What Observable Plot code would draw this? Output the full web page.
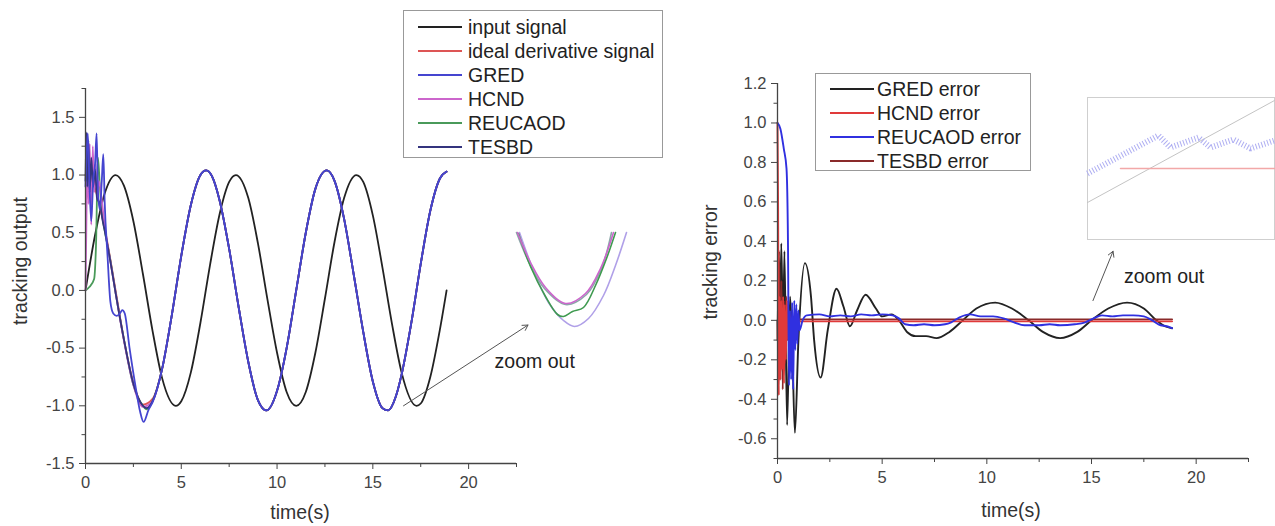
<!DOCTYPE html>
<html><head><meta charset="utf-8">
<script src="https://cdn.jsdelivr.net/npm/d3@7"></script>
<script src="https://cdn.jsdelivr.net/npm/@observablehq/plot@0.6"></script>
<style>
body{margin:0;background:#fff;font-family:"Liberation Sans",Arial,sans-serif;}
#root{position:relative;width:1275px;height:526px;overflow:hidden;background:#fff;}
.abs{position:absolute;}
.legend{position:absolute;border:1px solid #999;background:#fff;box-sizing:border-box;}
.row{position:absolute;height:24px;line-height:24px;font-size:19.5px;color:#222;white-space:nowrap;}
.title{position:absolute;font-size:19.5px;color:#333;white-space:nowrap;}
</style></head>
<body><div id="root"></div>
<script>
// ---------- left chart: tracking output ----------
const leftNames = ["input signal","ideal derivative signal","GRED","HCND","REUCAOD","TESBD"];
const leftColors = ["#222222","#dd5555","#4545d0","#cc66cc","#4a9a5a","#34347e"];

const inputT = [0,0.5,1,1.57,2,2.5,3,3.5,4,4.71,5,5.5,6,6.5,7,7.5,7.85,8.5,9,9.5,10,10.5,11,11.5,12,12.5,13,13.5,14.14,14.5,15,15.5,16,16.5,17.28,17.5,18,18.5,18.85];
const inputY = [0,0.48,0.84,1.0,0.91,0.60,0.14,-0.35,-0.76,-1.0,-0.96,-0.71,-0.28,0.22,0.66,0.94,1.0,0.80,0.41,-0.08,-0.54,-0.88,-1.0,-0.88,-0.54,-0.07,0.42,0.80,1.0,0.94,0.65,0.20,-0.29,-0.71,-1.0,-0.98,-0.75,-0.34,0.0];

const idealT = [0,0.5,1.0,1.5,2.0,2.5,3.0,3.5];
const idealY = [1.0,0.88,0.54,0.07,-0.42,-0.80,-0.99,-0.94];

const gredT = [0,0.06,0.12,0.2,0.3,0.4,0.5,0.58,0.65,0.75,0.85,0.93,1.0,1.15,1.3,1.45,1.63,1.8,1.92,2.05,2.3,2.6,2.85,3.03,3.3,3.5];
const gredY = [0.9,1.2,1.36,0.95,0.6,0.95,1.1,1.36,0.86,0.7,0.95,1.18,0.77,0.3,-0.1,-0.2,-0.22,-0.2,-0.17,-0.2,-0.5,-0.82,-1.05,-1.14,-1.03,-0.97];

const hcndT = [0,0.04,0.1,0.16,0.22,0.3,0.38,0.45,0.52,0.6,0.7,0.85,1.0,1.3,1.6,2.0,2.5,3.0,3.5];
const hcndY = [0.0,0.5,1.2,0.75,1.27,0.57,1.25,0.85,1.1,0.8,0.95,0.78,0.56,0.25,-0.05,-0.43,-0.82,-1.01,-0.96];

const reuT = [0,0.2,0.45,0.55,0.65,0.75,0.88,1.0,1.3,1.6,2.0,2.5,3.0,3.2,3.5];
const reuY = [0.0,0.03,0.1,0.4,1.15,0.9,0.64,0.52,0.26,-0.05,-0.42,-0.82,-1.0,-1.03,-0.96];

const tesT = [0,0.05,0.1,0.15,0.22,0.3,0.4,0.5,0.6,0.75,0.9,1.0,1.3,1.6,2.0,2.5,3.0,3.2,3.5];
const tesY = [0.95,1.37,0.9,1.3,0.85,1.15,0.9,1.05,0.8,0.75,0.6,0.52,0.25,-0.05,-0.42,-0.81,-1.0,-1.02,-0.96];

// common steady-state part (all derivative curves overlap here)
const steadyT = [4.0,4.5,5.0,5.5,6.0,6.3,6.6,7.0,7.5,8.0,8.5,9.0,9.45,10.0,10.5,11.0,11.5,12.0,12.6,13.0,13.5,14.0,14.5,15.0,15.5,15.8,16.2,16.5,17.0,17.5,18.0,18.5,18.85];
const steadyY = [-0.68,-0.22,0.30,0.74,1.0,1.04,0.99,0.78,0.36,-0.15,-0.62,-0.95,-1.04,-0.87,-0.50,0.0,0.50,0.88,1.04,0.95,0.62,0.14,-0.36,-0.79,-1.02,-1.04,-0.92,-0.73,-0.29,0.23,0.69,0.97,1.03];

const leftXMajor = [0,5,10,15,20];
const leftXMinor = [2.5,7.5,12.5,17.5,22.5];
const leftYMajor = [-1.5,-1.0,-0.5,0.0,0.5,1.0,1.5];
const leftYMinor = [-1.25,-0.75,-0.25,0.25,0.75,1.25,1.75];

// ---------- right chart: tracking error ----------
const rightNames = ["GRED error","HCND error","REUCAOD error","TESBD error"];
const rightColors = ["#222222","#e03a3a","#3030e0","#8a2a2a"];

const gredErrT = [0,0.08,0.18,0.27,0.33,0.46,0.6,0.7,0.83,1.0,1.31,1.6,1.75,2.06,2.4,2.82,3.15,3.46,3.8,4.21,4.7,5.0,5.45,5.8,6.2,6.6,7.1,7.6,8.2,8.85,9.5,10.4,11.2,12.0,12.7,13.5,14.3,15.0,15.8,16.7,17.5,18.1,18.5,18.85];
const gredErrY = [0.0,-0.3,0.39,-0.1,0.35,-0.53,0.12,-0.1,-0.57,-0.1,0.29,0.12,-0.1,-0.29,-0.05,0.16,0.07,-0.03,0.05,0.13,0.06,0.02,0.03,0.0,-0.06,-0.08,-0.08,-0.09,-0.06,0.0,0.06,0.09,0.06,0.0,-0.06,-0.09,-0.06,0.0,0.06,0.09,0.06,0.0,-0.03,-0.04];

const hcndErrT = [0,0.03,0.06,0.1,0.14,0.18,0.22,0.27,0.31,0.35,0.4,0.45,0.5,0.55,0.6,0.7,18.85];
const hcndErrY = [1.0,0.55,-0.38,0.12,-0.3,0.1,-0.25,0.12,-0.32,0.08,-0.2,0.1,-0.1,0.03,-0.02,-0.005,-0.005];

const reuErrT = [0,0.14,0.3,0.43,0.5,0.55,0.6,0.65,0.7,0.75,0.8,0.85,0.9,0.95,1.0,1.05,1.2,1.4,2.0,2.5,3.0,3.5,4.0,4.5,5.0,5.5,5.8,6.1,6.5,7.0,7.5,8.0,8.3,8.7,9.2,9.7,10.3,10.8,11.3,11.8,12.5,13.0,13.5,14.2,14.7,15.1,15.5,16.0,16.5,17.0,17.5,17.9,18.3,18.6,18.85];
const reuErrY = [1.0,0.97,0.87,0.77,0.4,-0.33,0.05,-0.3,0.09,-0.35,0.1,-0.15,0.08,-0.12,0.05,-0.05,0.0,0.025,0.03,0.02,0.025,0.02,0.03,0.025,0.03,0.025,0.01,-0.02,-0.025,-0.02,-0.025,-0.02,-0.01,0.015,0.03,0.02,0.02,0.01,-0.01,-0.025,-0.025,-0.02,-0.025,-0.02,-0.01,0.01,0.025,0.02,0.025,0.025,0.02,0.0,-0.025,-0.03,-0.04];

const tesErrT = [0,0.08,0.13,0.19,0.25,0.3,0.36,0.42,0.48,0.55,0.65,18.85];
const tesErrY = [-0.1,0.35,-0.3,0.2,-0.35,0.1,-0.22,0.12,-0.1,0.04,0.005,0.005];

const rightXMajor = [0,5,10,15,20];
const rightXMinor = [2.5,7.5,12.5,17.5,22.5];
const rightYMajor = [-0.6,-0.4,-0.2,0.0,0.2,0.4,0.6,0.8,1.0,1.2];
const rightYMinor = [-0.7,-0.5,-0.3,-0.1,0.1,0.3,0.5,0.7,0.9,1.1];

// ---------- "zoom out" annotations ----------
const leftArrow = [{x1:16.6, y1:-1.0, x2:23.1, y2:-0.3}];
const leftNote = [{x:23.45, y:-0.62, text:"zoom out"}];
const rightArrow = [{x1:15.07, y1:0.1, x2:16.03, y2:0.35}];
const rightNote = [{x:18.47, y:0.22, text:"zoom out"}];

// ---------- zoomed insets (inset-local units) ----------
const insetLName = ["HCND","REUCAOD","ideal","GRED"];
const insetLColor = ["#cc66cc","#3f9a50","#8aa8a8","#b0a0e8"];
const insLMagT = [7,20,35,55,75,90,103];
const insLMagY = [98,68,43,27,37,62,98];
const insLGrnT = [8,20,35,47,53,62,73,85,96,105];
const insLGrnY = [97,64,34,16,14,19,23,45,72,98];
const insLGryT = [6,19,34,55,76,91,101];
const insLGryY = [98,67,42,26,36,62,98];
const insLLavT = [9,23,38,53,64,78,93,105,116];
const insLLavY = [98,60,28,10,4,12,35,65,98];

const insRDiagT = [0,187];
const insRDiagY = [37,139];
const insRBlueT = [0,71,83,111,123,146,163,187];
const insRBlueY = [66,104,92,102,92,100,91,99];
const insRPinkT = [33,187];
const insRPinkY = [71,71];

// ---------- build ----------
const FONT = '"Liberation Sans", Arial, sans-serif';
const rows = (s, T, Y) => T.map((t, i) => ({t, v: Y[i], s}));
const root = document.getElementById("root");
function place(el, left, top) {
  const d = document.createElement("div");
  d.className = "abs"; d.style.left = left + "px"; d.style.top = top + "px";
  d.appendChild(el); root.appendChild(d); return d;
}
const fmt1 = d => d.toFixed(1);
const none = () => "";

const leftData = [
  ...rows(leftNames[0], inputT, inputY),
  ...rows(leftNames[1], idealT.concat(steadyT), idealY.concat(steadyY)),
  ...rows(leftNames[4], reuT.concat(steadyT), reuY.concat(steadyY)),
  ...rows(leftNames[3], hcndT.concat(steadyT), hcndY.concat(steadyY)),
  ...rows(leftNames[5], tesT.concat(steadyT), tesY.concat(steadyY)),
  ...rows(leftNames[2], gredT.concat(steadyT), gredY.concat(steadyY))
];

const leftPlot = Plot.plot({
  width: 640, height: 526, marginLeft: 85, marginRight: 124, marginTop: 88, marginBottom: 63,
  x: {domain: [0, 22.5], label: null},
  y: {domain: [-1.5, 1.75], label: null},
  color: {domain: leftNames, range: leftColors},
  style: {fontFamily: FONT, fontSize: "16.5px", color: "#444", background: "transparent", overflow: "visible"},
  marks: [
    Plot.line(leftData, {x: "t", y: "v", z: "s", stroke: "s", strokeWidth: 1.8, curve: "monotone-x"}),
    Plot.ruleX([0], {stroke: "#444", strokeWidth: 1.3}),
    Plot.ruleY([-1.5], {stroke: "#444", strokeWidth: 1.3}),
    Plot.axisX(leftXMajor, {tickSize: 6, tickPadding: 7, tickFormat: d => String(d), label: null, fontSize: 16.5}),
    Plot.axisX(leftXMinor, {tickSize: 4, tickFormat: none, label: null}),
    Plot.axisY(leftYMajor, {tickSize: 6, tickPadding: 5, tickFormat: fmt1, label: null, fontSize: 16.5}),
    Plot.axisY(leftYMinor, {tickSize: 3.5, tickFormat: none, label: null}),
    Plot.arrow(leftArrow, {x1: "x1", y1: "y1", x2: "x2", y2: "y2", stroke: "#555", strokeWidth: 1, headLength: 9}),
    Plot.text(leftNote, {x: "x", y: "y", text: "text", fontSize: 19.5, fill: "#222"})
  ]
});
place(leftPlot, 0, 0);

const rightData = [
  ...rows(rightNames[0], gredErrT, gredErrY),
  ...rows(rightNames[3], tesErrT, tesErrY),
  ...rows(rightNames[1], hcndErrT, hcndErrY),
  ...rows(rightNames[2], reuErrT, reuErrY)
];

const rightPlot = Plot.plot({
  width: 635, height: 526, marginLeft: 137, marginRight: 27, marginTop: 83, marginBottom: 68,
  x: {domain: [0, 22.5], label: null},
  y: {domain: [-0.7, 1.2], label: null},
  color: {domain: rightNames, range: rightColors},
  style: {fontFamily: FONT, fontSize: "16.5px", color: "#444", background: "transparent", overflow: "visible"},
  marks: [
    Plot.line(rightData, {x: "t", y: "v", z: "s", stroke: "s", strokeWidth: 1.9, curve: "monotone-x"}),
    Plot.ruleX([0], {stroke: "#444", strokeWidth: 1.3}),
    Plot.ruleY([-0.7], {stroke: "#444", strokeWidth: 1.3}),
    Plot.axisX(rightXMajor, {tickSize: 6, tickPadding: 7, tickFormat: d => String(d), label: null, fontSize: 16.5}),
    Plot.axisX(rightXMinor, {tickSize: 4, tickFormat: none, label: null}),
    Plot.axisY(rightYMajor, {tickSize: 6, tickPadding: 5, tickFormat: fmt1, label: null, fontSize: 16.5}),
    Plot.axisY(rightYMinor, {tickSize: 3.5, tickFormat: none, label: null}),
    Plot.arrow(rightArrow, {x1: "x1", y1: "y1", x2: "x2", y2: "y2", stroke: "#555", strokeWidth: 1, headLength: 9}),
    Plot.text(rightNote, {x: "x", y: "y", text: "text", fontSize: 19.5, fill: "#222"})
  ]
});
place(rightPlot, 640, 0);

// left inset
const insLData = [
  ...rows(insetLName[3], insLLavT, insLLavY),
  ...rows(insetLName[2], insLGryT, insLGryY),
  ...rows(insetLName[1], insLGrnT, insLGrnY),
  ...rows(insetLName[0], insLMagT, insLMagY)
];
const insetL = Plot.plot({
  width: 120, height: 100, margin: 0,
  x: {domain: [0, 120], axis: null}, y: {domain: [0, 100], axis: null},
  color: {domain: insetLName, range: insetLColor},
  style: {background: "transparent", overflow: "visible"},
  marks: [Plot.line(insLData, {x: "t", y: "v", z: "s", stroke: "s", strokeWidth: 1.6, curve: "catmull-rom"})]
});
place(insetL, 510, 230);

// right inset
const insetR = Plot.plot({
  width: 187, height: 142, margin: 0,
  x: {domain: [0, 187], axis: null}, y: {domain: [0, 142], axis: null},
  style: {background: "#fff", overflow: "visible"},
  marks: [
    Plot.frame({stroke: "#cfcfcf"}),
    Plot.line(rows("diag", insRDiagT, insRDiagY), {x: "t", y: "v", stroke: "#c4c4c4", strokeWidth: 1}),
    Plot.line(rows("pink", insRPinkT, insRPinkY), {x: "t", y: "v", stroke: "#f2a8a8", strokeWidth: 1.5}),
    Plot.line(rows("blue", insRBlueT, insRBlueY), {x: "t", y: "v", stroke: "#aeaef2", strokeWidth: 6, strokeDasharray: "1,2", strokeLinecap: "butt", strokeLinejoin: "miter"})
  ]
});
place(insetR, 1087, 97);

// legends
function legend(names, colors, left, top, w, h, rowTop) {
  const box = document.createElement("div");
  box.className = "legend";
  Object.assign(box.style, {left: left + "px", top: top + "px", width: w + "px", height: h + "px"});
  names.forEach((n, i) => {
    const r = document.createElement("div");
    r.className = "row";
    r.style.left = "0px"; r.style.top = (rowTop + i * 24 - 12) + "px";
    r.innerHTML = `<svg width="46" height="24" style="position:absolute;left:14px;top:0"><line x1="0" x2="44" y1="12" y2="12" stroke="${colors[i]}" stroke-width="2"/></svg><span style="position:absolute;left:${left < 600 ? 64 : 61}px;top:0">${n}</span>`;
    box.appendChild(r);
  });
  root.appendChild(box);
}
legend(leftNames, leftColors, 403, 10, 260, 148, 16);
legend(rightNames, rightColors, 815, 73, 216, 98, 15);

// axis titles
function title(text, x, y, rot) {
  const t = document.createElement("div");
  t.className = "title"; t.textContent = text;
  t.style.left = x + "px"; t.style.top = y + "px";
  t.style.transform = "translate(-50%,-50%)" + (rot ? " rotate(-90deg)" : "");
  root.appendChild(t);
}
title("tracking output", 20, 261, true);
title("time(s)", 300, 512, false);
title("tracking error", 710, 262, true);
title("time(s)", 1011, 510, false);
</script>
</body></html>
